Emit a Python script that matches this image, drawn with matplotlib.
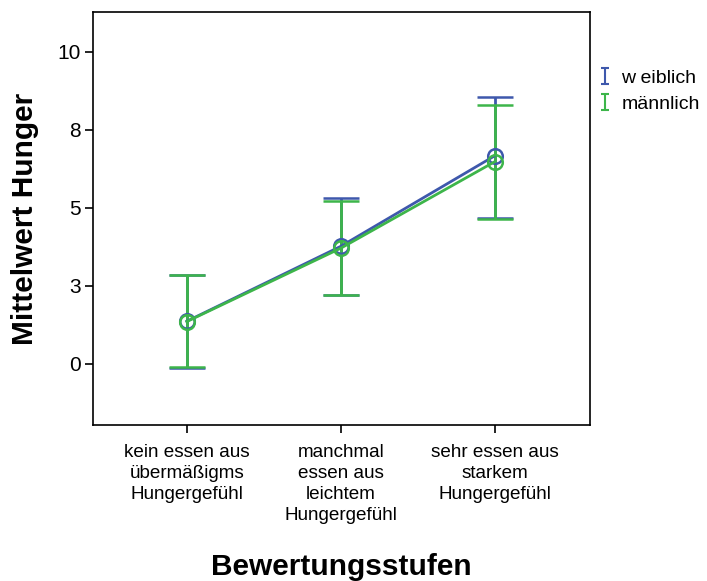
# -*- coding: utf-8 -*-

import matplotlib
matplotlib.use('Agg')
import matplotlib.pyplot as plt
from matplotlib.lines import Line2D
from matplotlib.path import Path
import numpy as np

# Daten
kategorien = ['kein essen aus\nübermäßigms\nHungergefühl',
              'manchmal\nessen aus\nleichtem\nHungergefühl',
              'sehr essen aus\nstarkem\nHungergefühl']
gruppen = ['w eiblich', 'männlich']

mittel_w = [1.37, 3.77, 6.67]
oben_w = [2.84, 5.33, 8.55]
unten_w = [-0.13, 2.21, 4.69]

mittel_m = [1.36, 3.71, 6.48]
oben_m = [2.84, 5.22, 8.31]
unten_m = [-0.10, 2.21, 4.65]

y_ticks = [0, 2.5, 5, 7.5, 10]
y_tick_labels = ['0', '3', '5', '8', '10']

farben = ['#3E58AC', '#3DB54A']

plt.rcParams['font.family'] = ['Liberation Sans', 'DejaVu Sans']

fig = plt.figure(figsize=(7.07, 5.81), dpi=100)
ax = fig.add_axes([0.1315, 0.2685, 0.703, 0.7108])

x = np.arange(len(kategorien))

for mittel, oben, unten, farbe, name in [(mittel_w, oben_w, unten_w, farben[0], gruppen[0]),
                                         (mittel_m, oben_m, unten_m, farben[1], gruppen[1])]:
    mittel = np.array(mittel)
    err = [mittel - np.array(unten), np.array(oben) - mittel]
    ax.errorbar(x, mittel, yerr=err, color=farbe, linewidth=2, elinewidth=2,
                capsize=13, capthick=2, marker='o', markersize=10.5,
                markerfacecolor='none', markeredgecolor=farbe, markeredgewidth=1.8)

ax.set_xlim(-0.61, 2.62)
ax.set_ylim(-1.955, 11.28)
ax.set_xticks(x)
ax.set_xticklabels(kategorien, fontsize=13.6, linespacing=1.3)
ax.set_yticks(y_ticks)
ax.set_yticklabels(y_tick_labels, fontsize=15)
ax.tick_params(axis='both', direction='out', length=6, width=1.2, colors='black')
ax.tick_params(axis='x', pad=8)
ax.tick_params(axis='y', pad=3)
for s in ax.spines.values():
    s.set_linewidth(1.2)

ax.set_xlabel('Bewertungsstufen', fontsize=21.5, fontweight='bold', labelpad=21)
ax.set_ylabel('Mittelwert Hunger', fontsize=21.5, fontweight='bold', labelpad=13)

# Legendensymbol "I"
i_path = Path([(-0.5, -1), (0.5, -1), (0, -1), (0, 1), (-0.5, 1), (0.5, 1)],
              [Path.MOVETO, Path.LINETO, Path.MOVETO, Path.LINETO, Path.MOVETO, Path.LINETO])
handles = [Line2D([], [], linestyle='none', marker=i_path, markersize=11,
                  markeredgecolor=f, markerfacecolor='none', markeredgewidth=1.5)
           for f in farben]
fig.legend(handles, gruppen, loc='upper left', bbox_to_anchor=(0.835, 0.897), frameon=False,
           fontsize=14, handlelength=0.5, handletextpad=0.6, labelspacing=0.4, borderpad=0)

fig.savefig('out.png', dpi=100)
